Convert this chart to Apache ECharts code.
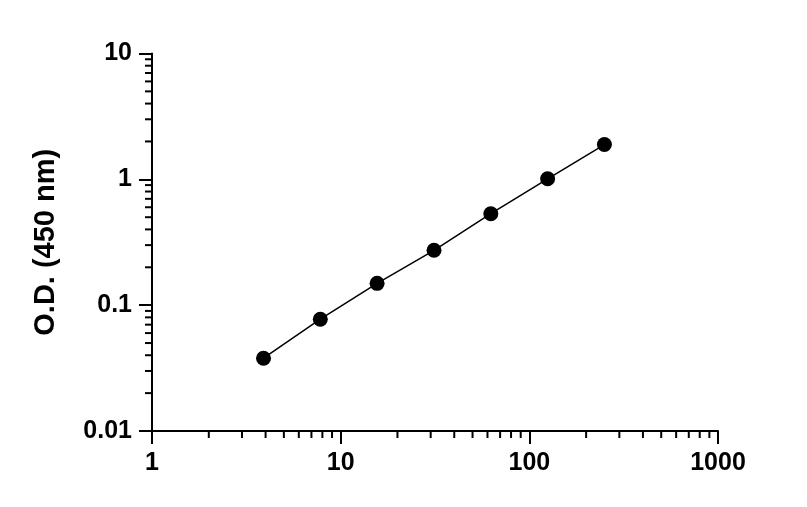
<!DOCTYPE html>
<html>
<head>
<meta charset="utf-8">
<script src="https://cdn.jsdelivr.net/npm/echarts@6/dist/echarts.min.js"></script>
<style>html,body{margin:0;padding:0;background:#fff;}#c{width:807px;height:507px;}</style>
</head>
<body>
<div id="c"></div>
<script>
const concentrations = [3.9, 7.8, 15.6, 31.25, 62.5, 125, 250];
const odValues = [0.0379, 0.0773, 0.149, 0.273, 0.533, 1.01, 1.89];
const xMinorTicks = [2,3,4,5,6,7,8,9,20,30,40,50,60,70,80,90,200,300,400,500,600,700,800,900];
const yMinorTicks = [0.02,0.03,0.04,0.05,0.06,0.07,0.08,0.09,0.2,0.3,0.4,0.5,0.6,0.7,0.8,0.9,2,3,4,5,6,7,8,9];
const yTitle = 'O.D. (450 nm)';

const font = 'Liberation Sans, Arial, sans-serif';
const chart = echarts.init(document.getElementById('c'));
chart.setOption({
  animation: false,
  backgroundColor: '#fff',
  grid: {left: 152, right: 89, top: 53.5, bottom: 76},
  xAxis: {
    type: 'log', logBase: 10, min: 1, max: 1000,
    axisLine: {show: true, lineStyle: {color: '#000', width: 2}},
    axisTick: {show: true, length: 13, lineStyle: {color: '#000', width: 2}},
    axisLabel: {color: '#000', fontSize: 25, fontWeight: 'bold', fontFamily: font, margin: 20,
      formatter: v => String(v)},
    splitLine: {show: false}
  },
  yAxis: {
    type: 'log', logBase: 10, min: 0.01, max: 10,
    name: yTitle, nameLocation: 'middle', nameGap: 92,
    nameTextStyle: {color: '#000', fontSize: 29, fontWeight: 'bold', fontFamily: font},
    axisLine: {show: true, lineStyle: {color: '#000', width: 2}},
    axisTick: {show: true, length: 13, lineStyle: {color: '#000', width: 2}},
    axisLabel: {color: '#000', fontSize: 25, fontWeight: 'bold', fontFamily: font, margin: 20,
      formatter: v => String(Number(v.toPrecision(6)))},
    splitLine: {show: false}
  },
  series: [
    {
      type: 'line',
      data: concentrations.map((x, i) => [x, odValues[i]]),
      symbol: 'circle', symbolSize: 15,
      itemStyle: {color: '#000'},
      lineStyle: {color: '#000', width: 1.5},
      z: 5
    },
    {
      type: 'custom', silent: true, clip: false,
      data: xMinorTicks.map(v => [v, 0.01]),
      renderItem: (params, api) => {
        const p = api.coord([api.value(0), api.value(1)]);
        return {type: 'line', shape: {x1: p[0], y1: p[1], x2: p[0], y2: p[1] + 7},
          style: {stroke: '#000', lineWidth: 2}};
      }
    },
    {
      type: 'custom', silent: true, clip: false,
      data: yMinorTicks.map(v => [1, v]),
      renderItem: (params, api) => {
        const p = api.coord([api.value(0), api.value(1)]);
        return {type: 'line', shape: {x1: p[0] - 7, y1: p[1], x2: p[0], y2: p[1]},
          style: {stroke: '#000', lineWidth: 2}};
      }
    }
  ]
});
</script>
</body>
</html>
